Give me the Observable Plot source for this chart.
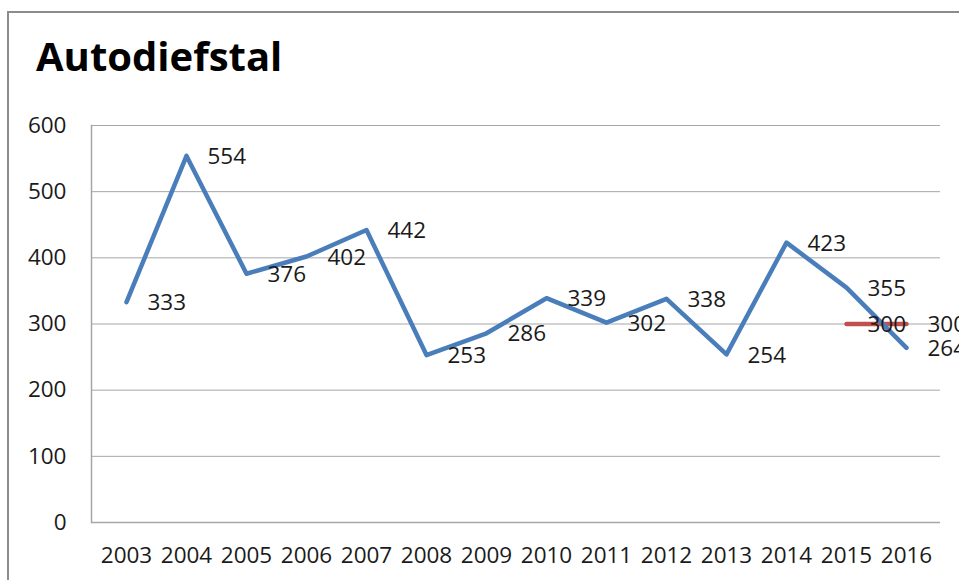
<!DOCTYPE html>
<html><head><meta charset="utf-8">
<script src="https://cdn.jsdelivr.net/npm/d3@7"></script>
<script src="https://cdn.jsdelivr.net/npm/@observablehq/plot@0.6"></script>
<style>
html,body{margin:0;padding:0;background:#fff;overflow:hidden;}
#frame{position:absolute;left:7px;top:11px;width:1000px;height:700px;border-left:2px solid #8c8c8c;border-top:2px solid #8c8c8c;}
#title{position:absolute;left:36px;top:36px;font-family:"Open Sans",sans-serif;font-weight:700;font-size:40px;color:#000;line-height:1;}
#chart{position:absolute;left:0;top:0;}
</style></head>
<body>
<div id="frame"></div>
<div id="title">Autodiefstal</div>
<div id="chart"></div>
<script>
const years = ["2003","2004","2005","2006","2007","2008","2009","2010","2011","2012","2013","2014","2015","2016"];
const thefts = [333,554,376,402,442,253,286,339,302,338,254,423,355,264];
const targetYears = ["2015","2016"];
const targetValues = [300,300];
const yTicks = [0,100,200,300,400,500,600];

const main = years.map((y,i)=>({year:y, value:thefts[i]}));
const target = targetYears.map((y,i)=>({year:y, value:targetValues[i]}));

const font = "'Open Sans', sans-serif";
const fs = 22.5;
const chart = Plot.plot({
  width: 959,
  height: 580,
  marginLeft: 91,
  marginRight: 19,
  marginTop: 125,
  marginBottom: 58,
  style: {fontFamily: font, fontSize: fs + "px", color: "#1a1a1a", background: "transparent", overflow: "visible"},
  x: {type: "point", domain: years, padding: 0.5, label: null},
  y: {domain: [0, 600], label: null},
  marks: [
    Plot.gridY(yTicks, {stroke: "#a6a6a6", strokeOpacity: 1, strokeWidth: 1}),
    Plot.frame({anchor: "left", stroke: "#a6a6a6", strokeWidth: 1.5}),
    Plot.ruleY([0], {stroke: "#a6a6a6", strokeWidth: 1.5}),
    Plot.axisY(yTicks, {tickSize: 0, tickPadding: 25, fontSize: fs, label: null}),
    Plot.axisX({tickSize: 0, tickPadding: 25, fontSize: fs, label: null}),
    Plot.lineY(target, {x: "year", y: "value", stroke: "#c0504d", strokeWidth: 4.5}),
    Plot.lineY(main, {x: "year", y: "value", stroke: "#4a7ebb", strokeWidth: 4.5, strokeLinejoin: "round"}),
    Plot.text(main, {x: "year", y: "value", text: d => String(d.value), textAnchor: "start", dx: 21, dy: 1, fontSize: fs, fill: "#1a1a1a"}),
    Plot.text(target, {x: "year", y: "value", text: d => String(d.value), textAnchor: "start", dx: 21, dy: 1, fontSize: fs, fill: "#1a1a1a"})
  ]
});
document.getElementById("chart").appendChild(chart);
</script>
</body></html>
